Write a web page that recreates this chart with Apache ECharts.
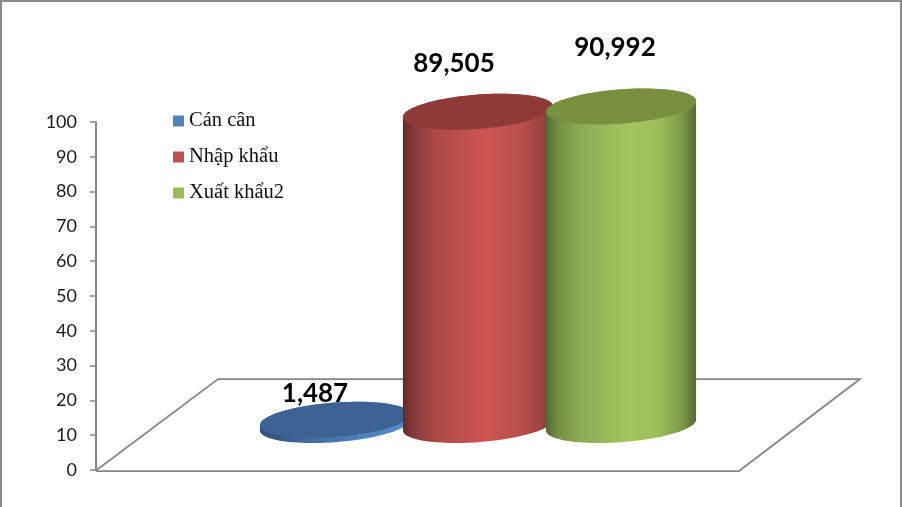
<!DOCTYPE html>
<html><head><meta charset="utf-8">
<style>html,body{margin:0;padding:0;background:#fff}#c{width:902px;height:507px}</style>
<script src="https://cdn.jsdelivr.net/npm/echarts@6/dist/echarts.min.js"></script>
</head><body><div id="c"></div>
<script>
const seriesNames = ['Cán cân', 'Nhập khẩu', 'Xuất khẩu2'];
const seriesValues = [1.487, 89.505, 90.992];
const tickMin = 0, tickMax = 100, tickStep = 10;

const looks = [
  {legend:'#4f81bd', top:'#3c6393', body:[[0,'#2f4f75'],[0.3,'#3f6a9e'],[0.7,'#4f81bd'],[1,'#5a8cc8']], lx:-20, ly:-26},
  {legend:'#c0504d', top:'#8e3a39', body:[[0,'#5f2a29'],[0.06,'#82393a'],[0.22,'#ad4a47'],[0.55,'#cd5653'],[0.78,'#b9504d'],[0.93,'#9c4240'],[1,'#7e3634']], lx:-24, ly:-48},
  {legend:'#9bbb59', top:'#76903f', body:[[0,'#4f6a30'],[0.08,'#748f45'],[0.25,'#8fac55'],[0.55,'#a3c55f'],[0.75,'#9dbe5a'],[0.9,'#7f9b49'],[1,'#566a33']], lx:-6, ly:-59}
];
const tilt = -0.3;

function ringPoints(cx, cy, rx, ry, from, to, n) {
  const pts = [], k = Math.sqrt(1 - tilt * tilt);
  for (let i = 0; i <= n; i++) {
    const t = from + (to - from) * i / n;
    pts.push([cx + rx * Math.cos(t), cy + ry * (tilt * Math.cos(t) + k * Math.sin(t))]);
  }
  return pts;
}

function makeRender(idx) {
  const look = looks[idx];
  return function (params, api) {
    const cat = api.value(0), val = api.value(1);
    const base = api.coord([cat, 0]), top = api.coord([cat, val]);
    const rx = api.size([1, 0])[0] * 0.525, ry = rx * 0.24;
    const cx = base[0];
    const side = ringPoints(cx, top[1], rx, ry, Math.PI, 2 * Math.PI, 48)
      .concat(ringPoints(cx, base[1], rx, ry, 0, Math.PI, 48));
    return {
      type: 'group',
      children: [
        {type:'polygon', shape:{points:side},
         style:{fill:new echarts.graphic.LinearGradient(0,0,1,0,look.body.map(s=>({offset:s[0],color:s[1]})))}},
        {type:'polygon', shape:{points:ringPoints(cx, top[1], rx, ry, 0, 2*Math.PI, 96)},
         style:{fill:look.top}},
        {type:'text', z2:50, style:{
          text:val.toFixed(3).replace('.',','), x:cx+look.lx, y:top[1]+look.ly,
          align:'center', verticalAlign:'middle',
          font:'bold 26px Lato, sans-serif', fill:'#000'}}
      ]
    };
  };
}

const chart = echarts.init(document.getElementById('c'), null, {renderer:'canvas'});
const frame = '#8a8a8a', axisGrey = '#868686';
chart.setOption({
  animation:false,
  backgroundColor:'#fff',
  color: looks.map(l=>l.legend),
  legend:{
    orient:'vertical', left:168, top:105.5, itemWidth:11, itemHeight:11, itemGap:15,
    icon:'rect', data:seriesNames, selectedMode:false,
    textStyle:{fontFamily:'"Liberation Serif"', fontSize:20.5, color:'#111'}
  },
  grid:[
    {left:96, top:122, width:640, height:348, containLabel:false},
    {left:263.5, top:75, width:429, height:350, containLabel:false}
  ],
  xAxis:[
    {gridIndex:0, type:'category', data:seriesNames, show:false},
    {gridIndex:1, type:'category', data:seriesNames, show:false}
  ],
  yAxis:[
    {gridIndex:0, type:'value', min:tickMin, max:tickMax, interval:tickStep,
     axisLine:{show:true, lineStyle:{color:axisGrey, width:2}},
     axisTick:{show:true, length:6, lineStyle:{color:axisGrey, width:1.5}},
     axisLabel:{margin:19, padding:[5,0,0,0], fontFamily:'Lato', fontSize:18, color:'#1a1a1a'},
     splitLine:{show:false}},
    {gridIndex:1, type:'value', min:tickMin, max:tickMax, show:false, splitLine:{show:false}}
  ],
  graphic:[
    {type:'polyline', z:0, silent:true, shape:{points:[[96,470.5],[218,379],[860,379],[739,471],[96,471]]},
     style:{stroke:axisGrey, lineWidth:1.75, fill:null}},
    {type:'rect', z:100, silent:true, shape:{x:0,y:0,width:902,height:2}, style:{fill:frame}},
    {type:'rect', z:100, silent:true, shape:{x:0,y:0,width:2,height:507}, style:{fill:frame}},
    {type:'rect', z:100, silent:true, shape:{x:900,y:0,width:2,height:507}, style:{fill:frame}}
  ],
  series: seriesNames.map((name,i)=>({
    type:'custom', name, xAxisIndex:1, yAxisIndex:1, z:2+i, clip:false,
    itemStyle:{color:looks[i].legend},
    encode:{x:0,y:1},
    data:[[name, seriesValues[i]]],
    renderItem:makeRender(i)
  }))
});
</script></body></html>
